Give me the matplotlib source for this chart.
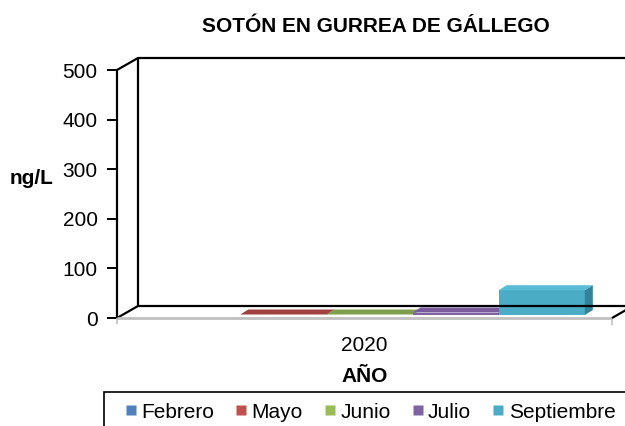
import matplotlib
matplotlib.use('Agg')
import matplotlib.pyplot as plt
import matplotlib.patches as patches
from matplotlib.lines import Line2D
import numpy as np

plt.rcParams['font.family'] = ['Liberation Sans', 'DejaVu Sans']

# datos
meses = ['Febrero', 'Mayo', 'Junio', 'Julio', 'Septiembre']
valores = [0, 1, 1, 5, 50]
categoria = ['2020']
colores = ['#4F81BD', '#C0504D', '#9BBB59', '#8064A2', '#4BACC6']
lados = ['#3A6190', '#8E3B39', '#728B41', '#5E4A78', '#31849B']
techos = ['#4F81BD', '#A04040', '#7F9F4F', '#7A5C9E', '#5BBCD6']

W, H = 625, 426
fig = plt.figure(figsize=(W / 100, H / 100), dpi=100)

def px(x, y):
    # pixeles (origen arriba-izquierda) -> fraccion de figura
    return x / W, 1 - y / H

x0, y0 = 117, 318   # esquina inferior del plano frontal
x1, y1 = 612, 70
ax = fig.add_axes([x0 / W, 1 - y0 / H, (x1 - x0) / W, (y0 - y1) / H])
ax.set_xlim(-0.5, 0.5)
ax.set_ylim(0, 500)
ax.patch.set_visible(False)
for s in ['top', 'right', 'bottom']:
    ax.spines[s].set_visible(False)
ax.spines['left'].set_linewidth(1.6)
ax.set_yticks([0, 100, 200, 300, 400, 500])
ax.tick_params(axis='y', direction='out', length=7, width=1.4, labelsize=15, pad=7)
ax.set_xticks([0])
ax.set_xticklabels(categoria, fontsize=15)
ax.tick_params(axis='x', length=0, pad=13)

fig.text(32 / W, 1 - 179 / H, 'ng/L', ha='center', va='center', fontsize=15, fontweight='bold')
fig.text(365 / W, 1 - 377 / H, 'AÑO', ha='center', va='center', fontsize=15, fontweight='bold')

# profundidad del fondo en pixeles
dx, dy = 21, 12
ident = fig.transFigure
def linea(pts, color='black', lw=1.6):
    xs = [px(p[0], p[1])[0] for p in pts]
    ys = [px(p[0], p[1])[1] for p in pts]
    fig.add_artist(Line2D(xs, ys, color=color, lw=lw, transform=ident,
                          solid_capstyle='butt', clip_on=False))

# pared del fondo y suelo
linea([(x0 + dx, y0 - dy), (x0 + dx, y1 - dy), (W + 10, y1 - dy)])
linea([(x0, y1), (x0 + dx, y1 - dy)])
linea([(x0, y0), (x0 + dx, y0 - dy), (W + 10, y0 - dy)])
linea([(x0, y0), (x1, y0)], color='#C0C0C0', lw=2)
linea([(x0, y0), (x0, y0 + 6)], color='#C0C0C0', lw=1.2)
linea([(x1, y0), (x1, y0 + 7)], color='#C0C0C0', lw=1.2)
linea([(x1, y0), (x1 + dx, y0 - dy)])

# barras 3D
ancho = 0.174
pos = (np.arange(len(meses)) - 2) * ancho
off = (5, 3)      # desplazamiento de la cara frontal
prof = (8, 5)     # profundidad de cada barra
tr = ax.transData
for i, (m, v) in enumerate(zip(meses, valores)):
    if v <= 0:
        continue
    (a, b) = tr.transform((pos[i] - ancho / 2, 0))
    (c, d) = tr.transform((pos[i] + ancho / 2, v))
    a += off[0]; c += off[0]; b += off[1]; d += off[1]
    frente = patches.Polygon([(a, b), (c, b), (c, d), (a, d)], closed=True,
                             facecolor=colores[i], edgecolor='none', transform=None)
    techo = patches.Polygon([(a, d), (c, d), (c + prof[0], d + prof[1]), (a + prof[0], d + prof[1])],
                            closed=True, facecolor=techos[i], edgecolor='none', transform=None)
    lado = patches.Polygon([(c, b), (c + prof[0], b + prof[1]), (c + prof[0], d + prof[1]), (c, d)],
                           closed=True, facecolor=lados[i], edgecolor='none', transform=None)
    for p in (frente, lado, techo):
        fig.add_artist(p)

# titulo
fig.text(376 / W, 1 - 27 / H, 'SOTÓN EN GURREA DE GÁLLEGO', ha='center', va='center',
         fontsize=15, fontweight='bold')

# leyenda
fig.add_artist(patches.Rectangle(px(104, 440), (W + 20 - 104) / W, 48 / H,
                                 transform=ident, facecolor='white', edgecolor='black',
                                 lw=1.2, clip_on=False))
hs = [Line2D([], [], marker='s', ls='none', markersize=7.5, markerfacecolor=c,
             markeredgecolor='none') for c in colores]
fig.legend(hs, meses, loc='center', bbox_to_anchor=px(370, 412), ncol=5, frameon=False,
           fontsize=15, handlelength=0.6, handletextpad=0.2, columnspacing=1.0,
           borderpad=0, borderaxespad=0)

fig.savefig('out.png', dpi=100)
